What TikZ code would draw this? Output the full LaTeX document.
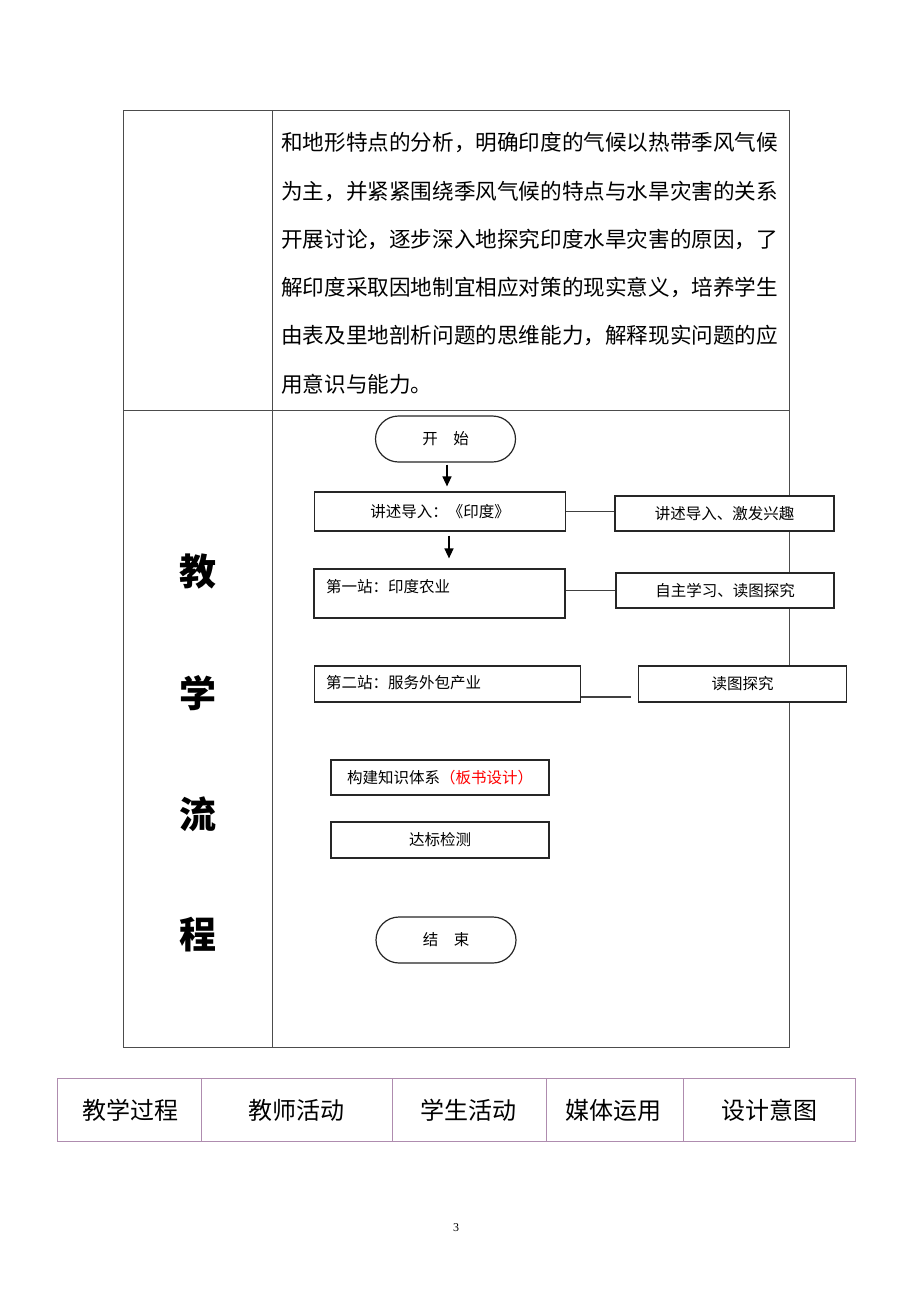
\documentclass[tikz,border=0pt]{standalone}
\usepackage{fontspec}
\setmainfont{Noto Sans CJK SC}
\newfontfamily\pagefont{Liberation Serif}
\usetikzlibrary{arrows.meta}

\begin{document}
\begin{tikzpicture}[x=1pt,y=-1pt,
  tableline/.style={draw=black!70,line width=1pt},
  box/.style={draw=black!85,line width=1.2pt,fill=white,inner sep=0pt,font=\fontsize{15.5}{18}\selectfont},
  term/.style={box,rounded corners=23pt,minimum width=140pt,minimum height=46pt},
  link/.style={draw=black!75,line width=1.1pt},
  down/.style={line width=1.4pt,-{Triangle[length=10pt,width=9pt]}},
  head/.style={font=\fontsize{24}{28}\selectfont}]
\useasboundingbox (0,0) rectangle (920,1302);

\draw[tableline] (123,110) rectangle (789,1047);
\draw[tableline] (272,110) -- (272,1047);
\draw[tableline] (123,410) -- (789,410);

\foreach \txt [count=\i] in {和地形特点的分析，明确印度的气候以热带季风气候,
  为主，并紧紧围绕季风气候的特点与水旱灾害的关系,
  开展讨论，逐步深入地探究印度水旱灾害的原因，了,
  解印度采取因地制宜相应对策的现实意义，培养学生,
  由表及里地剖析问题的思维能力，解释现实问题的应,
  用意识与能力。}
  \node[anchor=west,inner sep=0pt,font=\fontsize{21.6}{26}\selectfont] (line\i) at (281,{143+48.2*(\i-1)}) {\txt};

\foreach \ch [count=\i] in {教,学,流,程}
  \node[font=\fontsize{37}{40}\selectfont\bfseries] (col\i) at (198,{572+121*(\i-1)}) {\ch};

\node[term] (start) at (445.5,439) {开\hspace{1em}始};
\node[box,minimum width=251pt,minimum height=39pt] (intro) at (440,511.5) {讲述导入：《印度》};
\node[box,minimum width=219pt,minimum height=35pt] (introR) at (724.5,513.5) {讲述导入、激发兴趣};
\node[box,minimum width=251pt,minimum height=49pt] (st1) at (439.5,593.5) {};
\node[anchor=west,inner sep=0pt,font=\fontsize{15.5}{18}\selectfont] (st1text) at (326,587) {第一站：印度农业};
\node[box,minimum width=218pt,minimum height=35pt] (st1R) at (725,590.5) {自主学习、读图探究};
\node[box,minimum width=266pt,minimum height=36pt] (st2) at (447.5,684) {};
\node[anchor=west,inner sep=0pt,font=\fontsize{15.5}{18}\selectfont] (st2text) at (326,683) {第二站：服务外包产业};
\node[box,minimum width=208pt,minimum height=36pt] (st2R) at (742.5,684) {读图探究};
\coordinate (st2end) at (631,697);
\node[box,minimum width=218pt,minimum height=35pt] (board) at (440,777.5) {构建知识体系\textcolor{red}{（板书设计）}};
\node[box,minimum width=218pt,minimum height=36pt] (test) at (440,840) {达标检测};
\node[term] (finish) at (446,940) {结\hspace{1em}束};

\draw[down] ([xshift=1.5pt,yshift=-2pt]start.south) -- ([xshift=1.5pt,yshift=5pt]start.south |- intro.north);
\draw[down] ([xshift=9pt,yshift=-4pt]intro.south) -- ([xshift=9pt,yshift=10pt]intro.south |- st1.north);
\draw[link] (intro.east) -- (intro.east -| introR.west);
\draw[link] (st1R.west) -- (st1R.west -| st1.east);
\draw[link] ([yshift=-13pt]st2.east) -- (st2end);

\draw[draw=black!40!violet!45,line width=1pt] (57,1078) rectangle (855,1141);
\foreach \x in {201,392,546,683}
  \draw[draw=black!40!violet!45,line width=1pt] (\x,1078) -- (\x,1141);
\node[head] (h1) at (130,1110) {教学过程};
\node[head] (h2) at (296,1110) {教师活动};
\node[head] (h3) at (468,1110) {学生活动};
\node[head] (h4) at (613,1110) {媒体运用};
\node[head] (h5) at (769,1110) {设计意图};

\node[font=\pagefont\fontsize{12}{14}\selectfont] (page) at (456,1228) {3};
\end{tikzpicture}
\end{document}
